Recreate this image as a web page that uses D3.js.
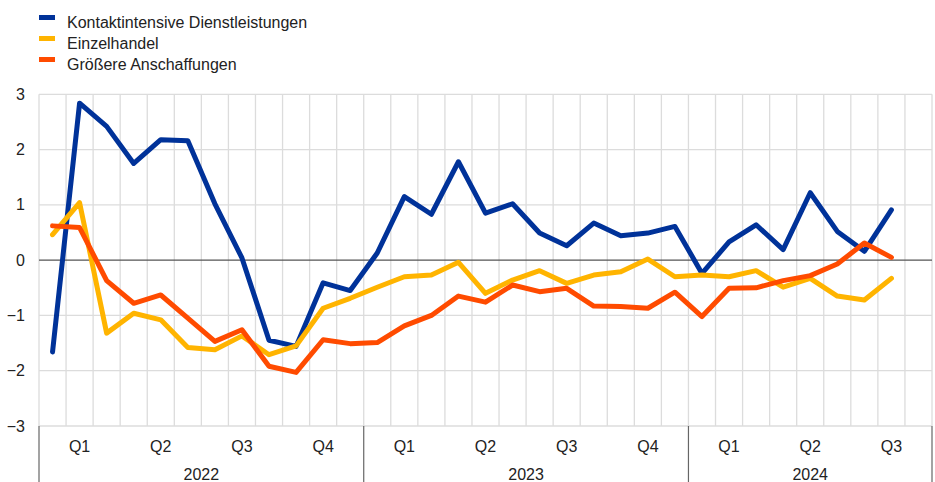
<!DOCTYPE html>
<html>
<head>
<meta charset="utf-8">
<script src="https://cdn.jsdelivr.net/npm/d3@7"></script>
<style>
  body { margin: 0; background: #fff; }
  text { font-family: "Liberation Sans", Arial, sans-serif; fill: #222; }
</style>
</head>
<body>
<script>
// monthly values, Jan 2022 .. Aug 2024
const years = ["2022", "2023", "2024"];
const monthsPerYear = [12, 12, 9];
const quarters = ["Q1", "Q2", "Q3", "Q4", "Q1", "Q2", "Q3", "Q4", "Q1", "Q2", "Q3"];
const yTicks = [-3, -2, -1, 0, 1, 2, 3];

const seriesNames = ["Kontaktintensive Dienstleistungen", "Einzelhandel", "Größere Anschaffungen"];
const seriesColors = ["#003299", "#ffb400", "#ff4b00"];

const kontakt = [-1.66, 2.84, 2.42, 1.75, 2.18, 2.16, 1.02, 0.04, -1.45, -1.56, -0.41, -0.55,
  0.13, 1.15, 0.83, 1.78, 0.85, 1.02, 0.49, 0.26, 0.67, 0.44, 0.49, 0.61,
  -0.24, 0.33, 0.64, 0.19, 1.22, 0.52, 0.16, 0.91];
const einzel = [0.46, 1.04, -1.32, -0.96, -1.08, -1.58, -1.62, -1.37, -1.71, -1.55, -0.87, -0.69,
  -0.49, -0.30, -0.27, -0.04, -0.60, -0.36, -0.19, -0.42, -0.27, -0.21, 0.02, -0.30,
  -0.27, -0.30, -0.19, -0.49, -0.33, -0.65, -0.72, -0.33];
const anschaff = [0.62, 0.59, -0.37, -0.78, -0.63, -1.05, -1.47, -1.26, -1.92, -2.03, -1.44, -1.51,
  -1.49, -1.19, -1.00, -0.65, -0.76, -0.45, -0.57, -0.51, -0.83, -0.84, -0.87, -0.58,
  -1.02, -0.51, -0.50, -0.37, -0.28, -0.07, 0.31, 0.05];

const data = [kontakt, einzel, anschaff];

const W = 935, H = 482;
const mLeft = 39, mRight = 932, mTop = 94.3, mBottom = 426;
const nMonths = d3.sum(monthsPerYear);

const x = d3.scaleLinear().domain([0, nMonths]).range([mLeft, mRight]);
const y = d3.scaleLinear().domain([-3, 3]).range([mBottom, mTop]);

const svg = d3.select("body").append("svg")
  .attr("width", W)
  .attr("height", H);

// grid
svg.append("g")
  .selectAll("line")
  .data(d3.range(0, nMonths + 1))
  .enter().append("line")
  .attr("x1", d => x(d)).attr("x2", d => x(d))
  .attr("y1", mTop).attr("y2", mBottom)
  .attr("stroke", "#dcdcdc").attr("stroke-width", 1.3);

const yAxis = d3.axisLeft(y).tickValues(yTicks).tickSize(0).tickPadding(14)
  .tickFormat(d3.format("d"));
const yg = svg.append("g")
  .attr("transform", "translate(" + mLeft + ",0)")
  .call(yAxis);
yg.select(".domain").remove();
yg.selectAll("text").style("font-size", "16px").attr("fill", "#222")
  .attr("font-family", "Liberation Sans, Arial, sans-serif");

svg.append("g")
  .selectAll("line")
  .data(yTicks)
  .enter().append("line")
  .attr("x1", mLeft).attr("x2", mRight)
  .attr("y1", d => y(d)).attr("y2", d => y(d))
  .attr("stroke", d => d === 0 ? "#555" : "#dcdcdc")
  .attr("stroke-width", d => d === 0 ? 1.2 : 1.3);

// category axis below
let cum = [0];
monthsPerYear.forEach(m => cum.push(cum[cum.length - 1] + m));

svg.append("g")
  .selectAll("line")
  .data(cum)
  .enter().append("line")
  .attr("x1", d => x(d)).attr("x2", d => x(d))
  .attr("y1", mBottom).attr("y2", H)
  .attr("stroke", "#666").attr("stroke-width", 1.2);

svg.append("g")
  .selectAll("text")
  .data(quarters)
  .enter().append("text")
  .attr("x", (d, i) => x(i * 3 + 1.5))
  .attr("y", 452)
  .attr("text-anchor", "middle")
  .style("font-size", "16px")
  .text(d => d);

svg.append("g")
  .selectAll("text")
  .data(years)
  .enter().append("text")
  .attr("x", (d, i) => x((cum[i] + cum[i + 1]) / 2))
  .attr("y", 480)
  .attr("text-anchor", "middle")
  .style("font-size", "16px")
  .text(d => d);

// lines
const line = d3.line()
  .x((d, i) => x(i + 0.5))
  .y(d => y(d));

svg.append("g")
  .selectAll("path")
  .data(data)
  .enter().append("path")
  .attr("d", line)
  .attr("fill", "none")
  .attr("stroke", (d, i) => seriesColors[i])
  .attr("stroke-width", 5)
  .attr("stroke-linejoin", "round")
  .attr("stroke-linecap", "round");

// legend
const legend = svg.append("g")
  .selectAll("g")
  .data(seriesNames)
  .enter().append("g")
  .attr("transform", (d, i) => "translate(39," + (28 + i * 21) + ")");

legend.append("rect")
  .attr("y", -13)
  .attr("width", 16)
  .attr("height", 5)
  .attr("fill", (d, i) => seriesColors[i]);

legend.append("text")
  .attr("x", 28)
  .attr("y", 0)
  .style("font-size", "16px")
  .text(d => d);
</script>
</body>
</html>
